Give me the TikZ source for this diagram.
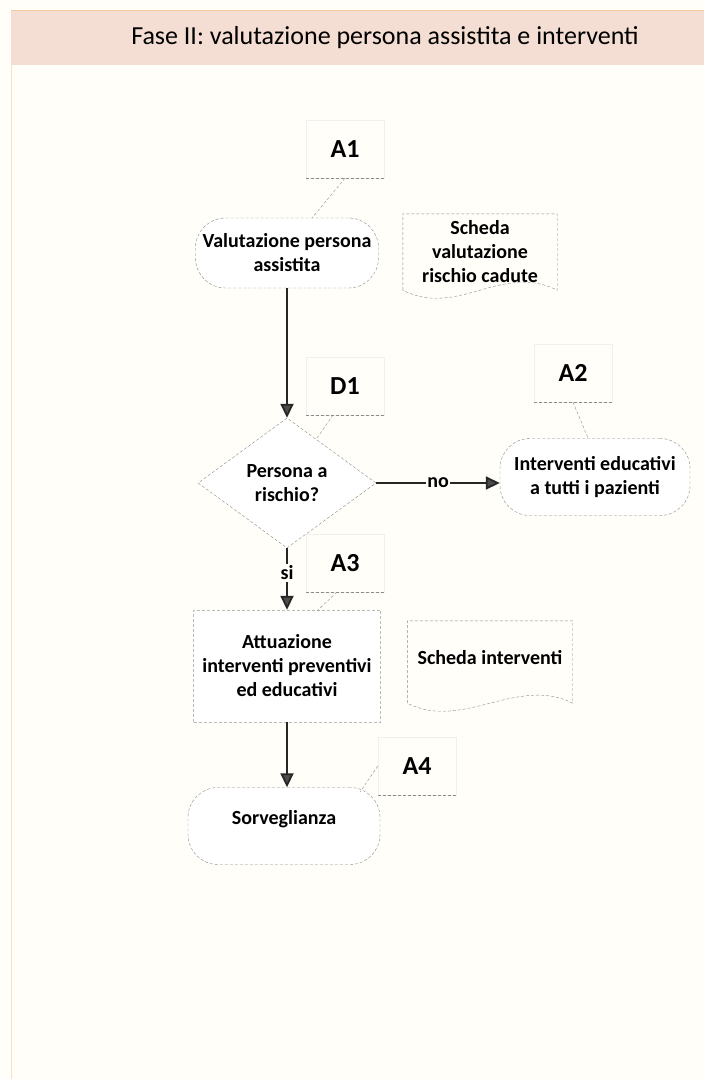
\documentclass[tikz,border=0pt]{standalone}
\usepackage{fontspec}
\setmainfont{Carlito}
\usetikzlibrary{arrows.meta,shapes.geometric}

\definecolor{paper}{HTML}{FFFEF8}
\definecolor{bandpink}{HTML}{F4DDD2}
\definecolor{bandline}{HTML}{F7C8A0}
\definecolor{edgegray}{HTML}{8C8C8C}

\tikzset{
  txt/.style={font=\fontsize{20}{24}\selectfont\bfseries, align=center},
  terminal/.style={txt, draw=edgegray, densely dashed, thin, fill=white,
    rounded corners=30pt, minimum height=70pt, inner sep=2pt},
  activity/.style={txt, draw=edgegray!60, densely dashed, thin, fill=white,
    minimum width=187pt, minimum height=112pt, inner sep=2pt},
  decision/.style={txt, diamond, draw=edgegray, densely dashed, thin, fill=white,
    aspect=1.37, minimum width=178pt, minimum height=130pt, inner sep=0pt},
  docnote/.style={txt, inner sep=0pt},
  docedge/.style={draw=edgegray, densely dashed, thin},
  tagbox/.style={draw=gray!12, minimum width=78pt, minimum height=58pt,
    font=\fontsize{26}{28}\selectfont\bfseries},
  tagline/.style={draw=edgegray, densely dashed, thin},
  flow/.style={draw=black!85, line width=1.8pt,
    -{Triangle[length=14pt, width=13pt, fill=black!70]}},
}

\begin{document}
\begin{tikzpicture}[x=1pt, y=-1pt]
    \useasboundingbox (0,0) rectangle (704,1079);
    % page and title band
    \fill[paper] (0,0) rectangle (704,1079);
    \draw[bandline!60, line width=0.8pt] (11,1079) -- (11,10);
    \fill[bandpink] (11,10) rectangle (704,65);
    \draw[bandline, line width=1pt] (11,10) -- (704,10);
    \node (title) at (385,38) {\fontsize{26}{28}\selectfont Fase II: valutazione persona assistita e interventi};

    % tag boxes
    \node[tagbox] (a1) at (345,149) {A1};
    \node[tagbox] (d1) at (345,386) {D1};
    \node[tagbox] (a2) at (573,373) {A2};
    \node[tagbox] (a3) at (345,563) {A3};
    \node[tagbox] (a4) at (417,766) {A4};
    \foreach \t in {a1,d1,a2,a3,a4}
        \draw[tagline] (\t.south west) -- (\t.south east);

    % flow shapes
    \node[terminal, minimum width=183pt] (val) at (287,253) {Valutazione persona\\assistita};
    \node[decision] (dia) at (287,483) {Persona a\\rischio?};
    \node[terminal, minimum width=190pt, minimum height=77pt] (edu) at (595,477) {Interventi educativi\\a tutti i pazienti};
    \node[activity] (act) at (287,666) {Attuazione\\interventi preventivi\\ed educativi};
    \node[terminal, minimum width=192pt, minimum height=77pt, text depth=18pt] (sorv) at (284,826) {Sorveglianza};

    % documents
    \node[docnote, minimum width=154pt, minimum height=76pt] (doc1) at (480,252) {Scheda\\valutazione\\rischio cadute};
    \node[docnote, minimum width=165pt, minimum height=82pt, text depth=10pt] (doc2) at (490,662) {Scheda interventi};
    \foreach \d in {doc1,doc2}
        \draw[docedge] (\d.south west) -- (\d.north west) -- (\d.north east) -- (\d.south east)
            .. controls +(-55,-28) and +(55,28) .. (\d.south west);

    % tag connectors
    \coordinate (val-tag) at (312,218);
    \coordinate (dia-tag) at (317,438);
    \coordinate (edu-tag) at (588,438);
    \coordinate (act-tag) at (317,611);
    \coordinate (sorv-tag) at (360,792);
    \draw[tagline] (a1.south) -- (val-tag);
    \draw[tagline] (333,415) -- (dia-tag);
    \draw[tagline] (a2.south) -- (edu-tag);
    \draw[tagline] (337,592) -- (act-tag);
    \draw[tagline] (a4.west) -- (sorv-tag);

    % flow arrows
    \draw[flow] (val.south) -- (dia.north);
    \draw[flow] (dia.east) -- node[txt, fill=paper, inner sep=1pt] (no) {no} (dia.east -| edu.west);
    \draw[flow] (dia.south) -- node[txt, fill=paper, inner sep=2pt, pos=0.4] (si) {si} (act.north);
    \draw[flow] (act.south) -- (act.south |- sorv.north);
\end{tikzpicture}
\end{document}
